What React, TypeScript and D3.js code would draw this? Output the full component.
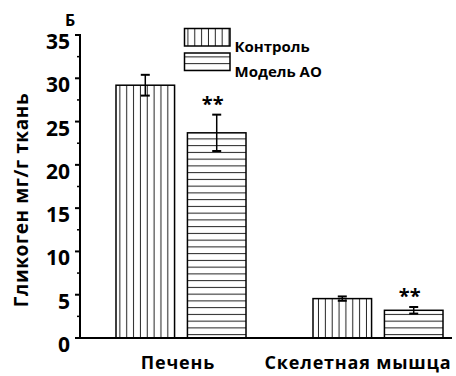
import React from "react";
import * as d3 from "d3";

const categories = ["Печень", "Скелетная мышца"];
const seriesNames = ["Контроль", "Модель АО"];
const controlValues = [29.2, 4.55];
const controlErrors = [1.2, 0.25];
const modelValues = [23.7, 3.2];
const modelErrors = [2.1, 0.38];
const significance = ["**", "**"];
const yTicks = [0, 5, 10, 15, 20, 25, 30, 35];
const yMinorTicks = [2.5, 7.5, 12.5, 17.5, 22.5, 27.5, 32.5];
const labelShift = [-3, -20];

const W = 456;
const H = 376;
const FONT = "'Open Sans', 'DejaVu Sans', sans-serif";

export default function App() {
  const y = d3.scaleLinear().domain([0, 35]).range([338, 35]);
  const x0 = d3.scalePoint<string>().domain(categories).range([181, 378]);
  const x1 = d3.scaleBand<number>().domain([0, 1]).range([-65, 65]).paddingInner(0.18).paddingOuter(0);
  const bw = x1.bandwidth();
  const axisX = 80;
  const series = [
    { values: controlValues, errors: controlErrors, fill: "url(#vstripe)" },
    { values: modelValues, errors: modelErrors, fill: "url(#hstripe)" },
  ];
  const capW = 9;

  return (
    <svg width={W} height={H} style={{ position: "absolute", left: 0, top: 0, background: "#fff" }} fontFamily={FONT}>
      <defs>
        <pattern id="vstripe" patternUnits="userSpaceOnUse" width={6.85} height={10}>
          <line x1={3.4} y1={0} x2={3.4} y2={10} stroke="#222" strokeWidth={1} />
        </pattern>
        <pattern id="hstripe" patternUnits="userSpaceOnUse" width={10} height={6.75} y={0.5}>
          <line x1={0} y1={3.4} x2={10} y2={3.4} stroke="#222" strokeWidth={1} />
        </pattern>
      </defs>
      <rect width={W} height={H} fill="#fff" />

      {/* bars */}
      {series.map((s, si) =>
        categories.map((c, ci) => {
          const bx = (x0(c) as number) + (x1(si) as number);
          const v = s.values[ci];
          const e = s.errors[ci];
          const cx = bx + bw / 2;
          return (
            <g key={`${si}-${ci}`}>
              <rect x={bx} y={y(v)} width={bw} height={y(0) - y(v)} fill="#fff" />
              <rect x={bx} y={y(v)} width={bw} height={y(0) - y(v)} fill={s.fill} stroke="#000" strokeWidth={1.5} />
              <line x1={cx} x2={cx} y1={y(v + e)} y2={y(v - e)} stroke="#000" strokeWidth={1.5} />
              <line x1={cx - capW / 2} x2={cx + capW / 2} y1={y(v + e)} y2={y(v + e)} stroke="#000" strokeWidth={2} />
              <line x1={cx - capW / 2} x2={cx + capW / 2} y1={y(v - e)} y2={y(v - e)} stroke="#000" strokeWidth={2} />
              {si === 1 && (
                <text x={cx - 4} y={y(v + e) - 4} textAnchor="middle" fontSize={20} fontWeight="bold">
                  {significance[ci]}
                </text>
              )}
            </g>
          );
        })
      )}

      {/* axes */}
      <line x1={axisX} x2={axisX} y1={y(35) - 1} y2={y(0)} stroke="#000" strokeWidth={2} />
      <line x1={axisX - 1} x2={452} y1={y(0)} y2={y(0)} stroke="#000" strokeWidth={2} />
      {yTicks.map((t) => (
        <g key={t}>
          <line x1={axisX - 5} x2={axisX} y1={y(t)} y2={y(t)} stroke="#000" strokeWidth={2} />
          <text x={70} y={y(t) + 14} textAnchor="end" fontSize={21} fontWeight="bold">
            {t}
          </text>
        </g>
      ))}
      {yMinorTicks.map((t) => (
        <line key={t} x1={axisX - 3} x2={axisX} y1={y(t)} y2={y(t)} stroke="#000" strokeWidth={1.5} />
      ))}
      <text x={70} y={26} fontSize={16} fontWeight="bold" textAnchor="middle">
        Б
      </text>

      {/* y label */}
      <text transform="translate(28,200) rotate(-90)" textAnchor="middle" fontSize={19} fontWeight="bold" letterSpacing={0.6}>
        Гликоген  мг/г ткань
      </text>

      {/* category labels */}
      {categories.map((c, i) => (
        <text key={c} x={(x0(c) as number) + labelShift[i]} y={369} textAnchor="middle" fontSize={18} fontWeight="bold" letterSpacing={0.8}>
          {c}
        </text>
      ))}

      {/* legend */}
      {seriesNames.map((n, i) => (
        <g key={n} transform={`translate(184.5,${28.5 + i * 24.5})`}>
          <rect width={45.5} height={17.5} fill="#fff" />
          <rect width={45.5} height={17.5} fill={i === 0 ? "url(#vstripe)" : "url(#hstripe)"} stroke="#000" strokeWidth={1.5} />
          <text x={50} y={i === 0 ? 23 : 24} fontSize={15} fontWeight="bold">
            {n}
          </text>
        </g>
      ))}
    </svg>
  );
}
